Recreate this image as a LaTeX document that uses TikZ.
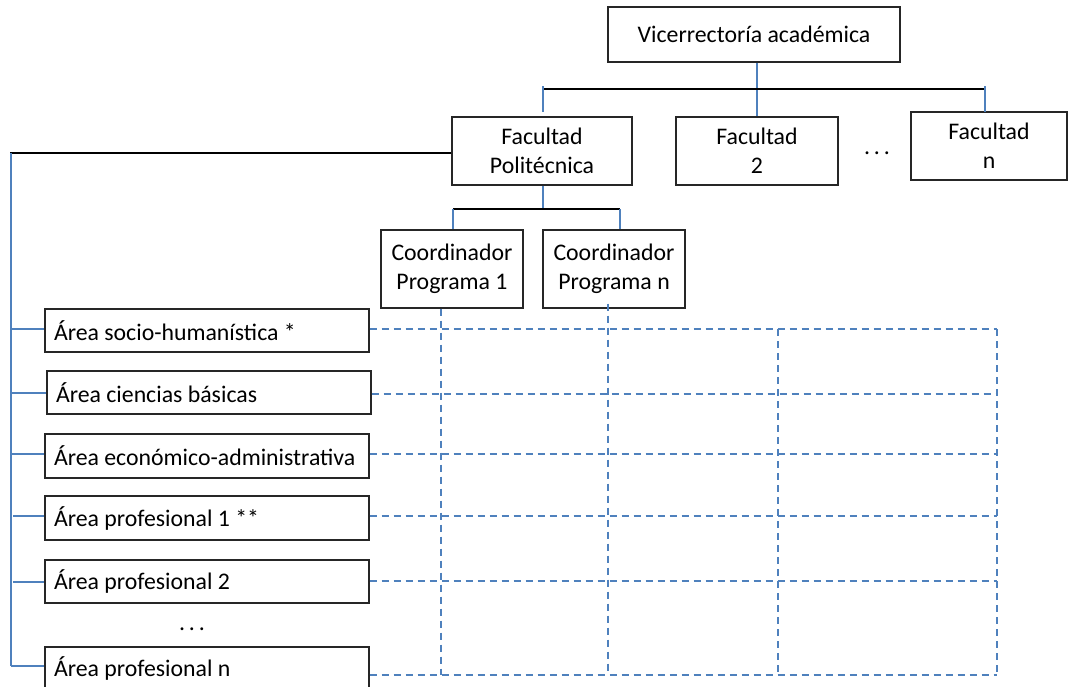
\documentclass[tikz,border=0pt]{standalone}
\usepackage{fontspec}
\setmainfont{Carlito}
\definecolor{offblue}{HTML}{4F81BD}
\definecolor{boxline}{HTML}{262626}
\newcommand{\arealabel}[1]{\makebox[306pt][l]{#1}}
\begin{document}
\begin{tikzpicture}[x=1pt,y=-1pt,
  box/.style={draw=boxline,line width=1.4pt,fill=white,inner sep=0pt,align=center,
    font=\fontsize{23.8}{29}\selectfont},
  areabox/.style={box,minimum width=324,minimum height=43},
  blk/.style={black,line width=2.2pt},
  bl/.style={offblue,line width=1.7pt},
  grid/.style={offblue,line width=2.2pt,dash pattern=on 7pt off 5pt},
  dotstxt/.style={inner sep=0pt,anchor=base,font=\fontsize{23.8}{29}\selectfont}]
\useasboundingbox (0,0) rectangle (1069,686);
\clip (0,0) rectangle (1069,686);

% top level
\node[box,minimum width=292,minimum height=55] (vic) at (754,34.5) {Vicerrectoría académica};
\node[box,minimum width=180,minimum height=68] (fp) at (542,151) {Facultad\\Politécnica};
\node[box,minimum width=162,minimum height=68] (f2) at (757,151) {Facultad\\2};
\node[box,minimum width=156,minimum height=68] (fn) at (989,146) {Facultad\\n};
\node[dotstxt] (d1) at (877,154.5) {.\,.\,.};

% coordinators
\node[box,minimum width=142,minimum height=78] (c1) at (452,269) {Coordinador\\Programa 1};
\node[box,minimum width=142,minimum height=78] (cn) at (614,269) {Coordinador\\Programa n};

% areas
\node[areabox] (a1) at (207,330.5) {\arealabel{Área socio-humanística *}};
\node[areabox] (a2) at (209,392.5) {\arealabel{Área ciencias básicas}};
\node[areabox,minimum height=44] (a3) at (207,456) {\arealabel{Área económico-administrativa}};
\node[areabox,minimum height=44] (a4) at (207,518) {\arealabel{Área profesional 1 **}};
\node[areabox] (a5) at (207,581.5) {\arealabel{Área profesional 2}};
\node[dotstxt] (d2) at (192,630.5) {.\,.\,.};
\node[areabox] (an) at (207,668.5) {\arealabel{Área profesional n}};

% coordinates
\coordinate (hl) at (543,89);
\coordinate (hr) at (985,89);
\coordinate (tl) at (543,112);
\coordinate (trt) at (985,112);
\coordinate (fpl) at (10,153);
\coordinate (vb) at (11,666);
\coordinate (ch) at (543,209);
\coordinate (chl) at (453,209);
\coordinate (chr) at (620,209);

% vicerrectoria connectors
\draw[bl] (vic.south -| 757,0) -- (f2.north -| 757,0);
\draw[blk] (hl) -- (hr);
\draw[bl] ([yshift=3]hl) -- (tl);
\draw[bl] ([yshift=3]hr) -- (trt);

% facultad politecnica to left spine
\draw[blk] (fp.west |- fpl) -- (fpl);
\draw[bl] (11,153) -- (vb);
\draw[bl] (11,329) -- (a1.west |- 0,329);
\draw[bl] (11,393) -- (a2.west |- 0,393);
\draw[bl] (11,454) -- (a3.west |- 0,454);
\draw[bl] (13,516) -- (a4.west |- 0,516);
\draw[bl] (13,582) -- (a5.west |- 0,582);
\draw[bl] (vb) -- (an.west |- 0,666);

% politecnica to coordinators
\draw[bl] (fp.south -| ch) -- (ch);
\draw[blk] (chl) -- (chr);
\draw[bl] (chl) -- (c1.north -| chl);
\draw[bl] (chr) -- (cn.north -| chr);

% dashed grid
\coordinate (gr) at (997,329);
\coordinate (gb) at (997,675);
\draw[grid] (a1.east |- 0,329) -- (997,329);
\draw[grid] (a2.east |- 0,394) -- (997,394);
\draw[grid] (a3.east |- 0,454) -- (997,454);
\draw[grid] (a4.east |- 0,516) -- (997,516);
\draw[grid] (a5.east |- 0,581) -- (997,581);
\draw[grid] (an.east |- 0,675) -- (gb);
\draw[grid] (c1.south -| 441,0) -- (441,675);
\draw[grid] ([yshift=5]cn.south -| 608,0) -- (608,675);
\draw[grid] (778,329) -- (778,675);
\draw[grid] (gr) -- (gb);
\end{tikzpicture}
\end{document}
